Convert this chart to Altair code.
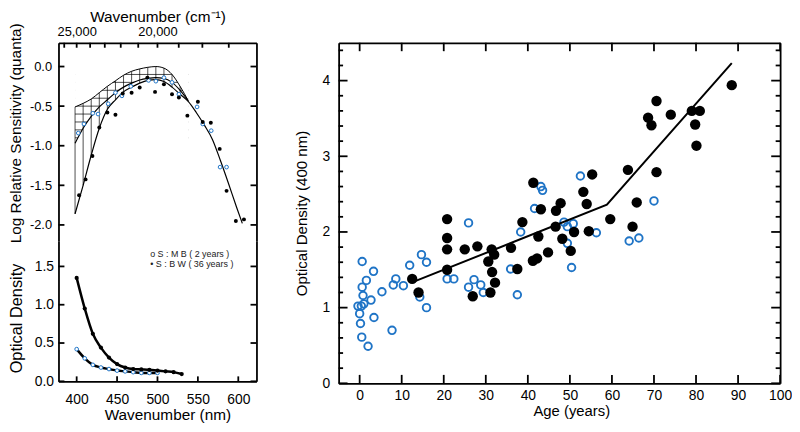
import altair as alt
import pandas as pd

FONT = "Liberation Sans"
BLUE = "#1f74c6"
TICK_W = 1.8
FRAME_W = 1.8

# ---------------- upper-left panel: log relative sensitivity ----------------
sens_mb_nm = [402, 409, 420, 426.5, 439, 448, 456, 467, 489, 498, 508, 518, 526.5, 549, 556, 566.5, 577.5, 585.5]
sens_mb_val = [-0.84, -0.725, -0.59, -0.60, -0.47, -0.33, -0.37, -0.25, -0.175, -0.185, -0.14, -0.20, -0.35, -0.51, -0.725, -0.81, -1.27, -1.27]
sens_bw_nm = [403, 411, 419.5, 428, 438, 448, 457, 468, 478, 487.5, 497, 508, 518, 526.5, 537, 550, 556, 566, 577, 585.5, 597, 607]
sens_bw_val = [-1.625, -1.425, -1.13, -0.77, -0.58, -0.61, -0.34, -0.33, -0.265, -0.14, -0.32, -0.225, -0.35, -0.39, -0.62, -0.445, -0.70, -0.71, -1.04, -1.57, -1.95, -1.93]

fit_nm = [398, 408, 418, 428, 438, 448, 458, 468, 478, 488, 498, 508, 518, 528, 538, 548, 558, 568, 578, 588, 598, 605]
fit_bw = [-1.86, -1.50, -1.12, -0.78, -0.54, -0.42, -0.32, -0.26, -0.21, -0.175, -0.165, -0.19, -0.26, -0.35, -0.44, -0.58, -0.74, -0.92, -1.19, -1.48, -1.78, -1.98]
fit_mb = [-0.97, -0.78, -0.63, -0.51, -0.42, -0.33, -0.26, -0.21, -0.17, -0.15, -0.14, -0.15, -0.20, -0.30, -0.43]
env_top = [-0.51, -0.465, -0.41, -0.33, -0.25, -0.18, -0.11, -0.06, -0.03, -0.01, 0.0, -0.02, -0.10, -0.25, -0.43]
hatch_levels = [-0.1, -0.2, -0.3, -0.4, -0.5, -0.6, -0.7, -0.8, -0.9]

wn_ticks = [26000, 25000, 24000, 23000, 22000, 21000, 20000, 19000, 18000, 17000]
sens_ticks = [0.0, -0.5, -1.0, -1.5, -2.0]

# ---------------- lower-left panel: optical density ----------------
od_mb_nm = [400, 410, 420, 430, 440, 450, 460, 470, 480, 490, 500]
od_mb = [0.42, 0.30, 0.215, 0.18, 0.16, 0.14, 0.13, 0.12, 0.11, 0.11, 0.11]
od_bw_nm = [400, 410, 420, 430, 440, 450, 460, 470, 480, 490, 500, 510, 520, 530]
od_bw = [1.35, 0.95, 0.62, 0.44, 0.31, 0.225, 0.18, 0.16, 0.155, 0.15, 0.14, 0.13, 0.12, 0.095]
legend_labels = ["o S : M  B   ( 2 years )", "\u2022 S : B  W   ( 36 years )"]
legend_nm = [491, 491]
legend_od = [1.66, 1.53]
nm_ticks = [400, 450, 500, 550, 600]
od_ticks_left = [0.0, 0.5, 1.0, 1.5]

# ---------------- right panel: optical density vs age ----------------
blue_age = [0.6, 3.3, 1.6, 0.6, 0.8, 2.7, -0.4, 0.4, 1.0, 0.0, 0.2, 0.5, 2.0, 3.4, 5.3, 7.7, 8.0, 8.6, 10.4, 11.9,
            14.7, 15.9, 14.3, 15.9, 20.8, 22.4, 25.9, 25.9, 27.2, 28.8, 29.4, 35.9, 37.5, 38.3, 41.6, 43.1, 43.5,
            48.6, 49.4, 50.8, 49.4, 50.4, 52.5, 56.3, 64.1, 66.4, 70.0]
blue_od = [1.61, 1.48, 1.36, 1.27, 1.16, 1.10, 1.02, 1.02, 1.05, 0.92, 0.79, 0.61, 0.49, 0.87, 1.21, 0.70, 1.30, 1.38, 1.29, 1.56,
           1.70, 1.60, 1.14, 1.00, 1.38, 1.38, 2.12, 1.27, 1.37, 1.30, 1.20, 1.51, 1.17, 2.00, 2.31, 2.60, 2.55,
           2.13, 2.07, 2.11, 1.85, 1.53, 2.74, 1.99, 1.88, 1.92, 2.41]
black_age = [12.5, 14.0, 20.8, 20.8, 20.8, 20.8, 25.0, 26.9, 28.0, 30.6, 31.4, 32.0, 31.5, 32.2, 31.1, 36.0, 37.5, 38.7,
             41.3, 43.1, 42.5, 41.2, 42.2, 44.8, 46.7, 47.8, 46.6, 48.2, 50.2, 51.0, 53.2, 54.0, 54.5, 55.3, 59.6,
             63.8, 64.9, 65.9, 68.6, 69.4, 70.6, 70.6, 74.0, 79.0, 80.9, 79.8, 80.1, 88.5]
black_od = [1.38, 1.20, 2.17, 1.92, 1.77, 1.50, 1.77, 1.15, 1.81, 1.61, 1.77, 1.70, 1.47, 1.33, 1.20, 1.79, 1.51, 2.13,
            2.65, 2.30, 1.94, 1.62, 1.65, 1.73, 2.28, 2.38, 2.07, 1.91, 1.75, 2.00, 2.53, 2.37, 2.01, 2.76, 2.17,
            2.82, 2.07, 2.39, 3.51, 3.41, 2.79, 3.73, 3.55, 3.60, 3.60, 3.42, 3.14, 3.94]
fit_age = [12.3, 58.8, 88.5]
fit_od = [1.33, 2.36, 4.23]
age_ticks = [0, 10, 20, 30, 40, 50, 60, 70, 80, 90, 100]
od_major = [0, 1, 2, 3, 4]
od_minor = [round(0.2 * i, 1) for i in range(23) if i % 5 != 0]

# panel sizes (plot areas, px) and scale domains
TW, TH = 200, 200      # upper-left
BW, BH = 200, 142      # lower-left
RW, RH = 446, 344      # right
NM_DOM = [377.5, 622.5]
SENS_DOM = [-2.2, 0.3]
OD_DOM = [0, 1.835]


def ax(**kw):
    base = dict(domainColor="black", domainWidth=FRAME_W, ticks=False,
                labelColor="black", titleColor="black", labelFont=FONT, titleFont=FONT,
                titleFontWeight="normal", grid=False, zindex=1, minExtent=0, labelFlush=False)
    base.update(kw)
    return alt.Axis(**base)


def frame_axis(orient):
    return ax(orient=orient, labels=False, title=None)


# --- inward ticks drawn through the panel's own scales (length given in px) ---
def y_ticks_scaled(values, xscale, yscale, xdom, width, length, side):
    step = (xdom[1] - xdom[0]) / width * length
    a = xdom[0] if side == "left" else xdom[1]
    b = a + step if side == "left" else a - step
    return alt.Chart(pd.DataFrame({"v": values, "a": a, "b": b})).mark_rule(
        color="black", strokeWidth=TICK_W).encode(
        y=alt.Y("v:Q", scale=yscale, axis=None),
        x=alt.X("a:Q", scale=xscale, axis=None), x2=alt.X2("b:Q"))


def x_ticks_scaled(values, xscale, yscale, ydom, height, length, side):
    step = (ydom[1] - ydom[0]) / height * length
    a = ydom[1] if side == "top" else ydom[0]
    b = a - step if side == "top" else a + step
    return alt.Chart(pd.DataFrame({"v": values, "a": a, "b": b})).mark_rule(
        color="black", strokeWidth=TICK_W).encode(
        x=alt.X("v:Q", scale=xscale, axis=None),
        y=alt.Y("a:Q", scale=yscale, axis=None), y2=alt.Y2("b:Q"))


# --- inward ticks in pixel space (used on the right panel) ---
def y_ticks(values, scale, length, side, width):
    x0 = 0 if side == "left" else width
    x1 = length if side == "left" else width - length
    return alt.Chart(pd.DataFrame({"v": values, "a": x0, "b": x1})).mark_rule(
        color="black", strokeWidth=TICK_W, opacity=1).encode(
        y=alt.Y("v:Q", scale=scale, axis=None),
        x=alt.X("a:Q", scale=None, axis=None), x2=alt.X2("b:Q"))


def x_ticks(values, scale, length, side, height):
    y0 = 0 if side == "top" else height
    y1 = length if side == "top" else height - length
    return alt.Chart(pd.DataFrame({"v": values, "a": y0, "b": y1})).mark_rule(
        color="black", strokeWidth=TICK_W, opacity=1).encode(
        x=alt.X("v:Q", scale=scale, axis=None),
        y=alt.Y("a:Q", scale=None, axis=None), y2=alt.Y2("b:Q"))


# ================= upper-left chart =================
X_NM = alt.Scale(domain=NM_DOM, nice=False, zero=False)
Y_SENS = alt.Scale(domain=SENS_DOM, nice=False, zero=False)

n_env = len(env_top)
env_df = pd.DataFrame({"nm": fit_nm[:n_env], "env": env_top, "mb": fit_mb, "bw": fit_bw[:n_env]})
bw_df = pd.DataFrame({"nm": fit_nm, "bw": fit_bw})
hh_df = pd.DataFrame({"level": hatch_levels, "x1": fit_nm[0], "x2": fit_nm[n_env - 1]})
wn_nm = [round(1e7 / w, 3) for w in wn_ticks]

t_x_lab = ax(orient="top", values=wn_nm,
             labelExpr="abs(round(10000000 / datum.value) % 5000) < 1 ? format(round(10000000 / datum.value), ',') : ''",
             labelPadding=4, labelFontSize=13, labelOverlap=False,
             title="Wavenumber (cm\u207b\u00b9)", titleFontSize=15.5, titlePadding=1)
t_y_lab = ax(orient="left", values=sens_ticks,
             labelExpr="(datum.value < 0 ? '-' : '') + format(abs(datum.value), '.1f')",
             labelPadding=7, labelFontSize=13,
             title="Log Relative Sensitivity (quanta)", titleFontSize=15.5, titlePadding=5.6, titleY=91)

hh = alt.Chart(hh_df).mark_rule(color="black", strokeWidth=0.7).encode(
    x=alt.X("x1:Q", scale=X_NM, axis=t_x_lab), x2="x2:Q",
    y=alt.Y("level:Q", scale=Y_SENS, axis=t_y_lab))
mask_top = alt.Chart(env_df).mark_area(color="white", opacity=1, interpolate="monotone").encode(
    x=alt.X("nm:Q", scale=X_NM, axis=None), y=alt.Y("env:Q", scale=Y_SENS, axis=frame_axis("right")),
    y2=alt.Y2Datum(0.3))
mask_bot = alt.Chart(env_df).mark_area(color="white", opacity=1, interpolate="monotone").encode(
    x=alt.X("nm:Q", scale=X_NM, axis=None), y=alt.Y("mb:Q", scale=Y_SENS, axis=None),
    y2=alt.Y2Datum(-2.2))
vh = alt.Chart(env_df).mark_rule(color="black", strokeWidth=0.7).encode(
    x=alt.X("nm:Q", scale=X_NM, axis=None),
    y=alt.Y("env:Q", scale=Y_SENS, axis=None), y2="bw:Q")
env_line = alt.Chart(env_df).mark_line(color="black", strokeWidth=1, interpolate="monotone").encode(
    x=alt.X("nm:Q", scale=X_NM, axis=None), y=alt.Y("env:Q", scale=Y_SENS, axis=None))
mb_line = alt.Chart(env_df).mark_line(color="black", strokeWidth=1.2, interpolate="monotone").encode(
    x=alt.X("nm:Q", scale=X_NM, axis=None), y=alt.Y("mb:Q", scale=Y_SENS, axis=None))
bw_line = alt.Chart(bw_df).mark_line(color="black", strokeWidth=1.2, interpolate="monotone").encode(
    x=alt.X("nm:Q", scale=X_NM, axis=None), y=alt.Y("bw:Q", scale=Y_SENS, axis=None))
pts_mb = alt.Chart(pd.DataFrame({"nm": sens_mb_nm, "v": sens_mb_val})).mark_point(
    shape="circle", fill="white", stroke=BLUE, strokeWidth=1, size=14, opacity=1, fillOpacity=1).encode(
    x=alt.X("nm:Q", scale=X_NM, axis=None), y=alt.Y("v:Q", scale=Y_SENS, axis=None))
pts_bw = alt.Chart(pd.DataFrame({"nm": sens_bw_nm, "v": sens_bw_val})).mark_circle(
    color="black", size=16, opacity=1).encode(
    x=alt.X("nm:Q", scale=X_NM, axis=None), y=alt.Y("v:Q", scale=Y_SENS, axis=None))

top_chart = alt.layer(
    hh, mask_top, mask_bot, vh, env_line, mb_line, bw_line, pts_mb, pts_bw,
    y_ticks_scaled(sens_ticks, X_NM, Y_SENS, NM_DOM, TW, 6, "left"),
    y_ticks_scaled(sens_ticks, X_NM, Y_SENS, NM_DOM, TW, 6, "right"),
    x_ticks_scaled(wn_nm, X_NM, Y_SENS, SENS_DOM, TH, 5, "top"),
).resolve_axis(x="independent", y="independent").properties(width=TW, height=TH)

# ================= lower-left chart =================
Y_OD = alt.Scale(domain=OD_DOM, nice=False)
b_x_lab = ax(orient="bottom", values=nm_ticks, format="d", labelPadding=11, labelFontSize=14,
             title="Wavenumber (nm)", titleFontSize=15.5, titlePadding=2, titleX=110)
b_y_lab = ax(orient="left", values=od_ticks_left, format=".1f", labelPadding=5, labelFontSize=14,
             title="Optical Density", titleFontSize=16.5, titlePadding=9.5, titleY=78)

mb_od_df = pd.DataFrame({"nm": od_mb_nm, "od": od_mb})
bw_od_df = pd.DataFrame({"nm": od_bw_nm, "od": od_bw})
od_bw_line = alt.Chart(bw_od_df).mark_line(color="black", strokeWidth=2.5, interpolate="monotone").encode(
    x=alt.X("nm:Q", scale=X_NM, axis=b_x_lab), y=alt.Y("od:Q", scale=Y_OD, axis=b_y_lab))
od_mb_line = alt.Chart(mb_od_df).mark_line(color="black", strokeWidth=2.5, interpolate="monotone").encode(
    x=alt.X("nm:Q", scale=X_NM, axis=None), y=alt.Y("od:Q", scale=Y_OD, axis=frame_axis("right")))
od_mb_pts = alt.Chart(mb_od_df).mark_point(
    shape="circle", fill="white", stroke=BLUE, strokeWidth=1, size=14, opacity=1, fillOpacity=1).encode(
    x=alt.X("nm:Q", scale=X_NM, axis=None), y=alt.Y("od:Q", scale=Y_OD, axis=None))
od_bw_pts = alt.Chart(bw_od_df).mark_circle(color="black", size=18, opacity=1).encode(
    x=alt.X("nm:Q", scale=X_NM, axis=None), y=alt.Y("od:Q", scale=Y_OD, axis=None))
legend = alt.Chart(pd.DataFrame({"nm": legend_nm, "od": legend_od, "label": legend_labels})).mark_text(
    align="left", baseline="middle", fontSize=9, font=FONT, color="#222222").encode(
    x=alt.X("nm:Q", scale=X_NM, axis=None), y=alt.Y("od:Q", scale=Y_OD, axis=None), text="label:N")

bottom_chart = alt.layer(
    od_bw_line, od_mb_line, od_mb_pts, od_bw_pts, legend,
    y_ticks_scaled(od_ticks_left, X_NM, Y_OD, NM_DOM, BW, 6, "left"),
    y_ticks_scaled(od_ticks_left, X_NM, Y_OD, NM_DOM, BW, 6, "right"),
    x_ticks_scaled(nm_ticks, X_NM, Y_OD, OD_DOM, BH, 5, "bottom"),
).resolve_axis(x="independent", y="independent").properties(width=BW, height=BH)

# ================= right chart =================
X_AGE = alt.Scale(domain=[-5, 100], nice=False, zero=False)
Y_AGE = alt.Scale(domain=[0, 4.5], nice=False)

r_x_lab = ax(orient="bottom", values=age_ticks, format="d", labelPadding=5, labelFontSize=14,
             title="Age (years)", titleFontSize=15, titlePadding=1.5, titleX=235)
r_y_lab = ax(orient="left", values=od_major, format="d", labelPadding=9, labelFontSize=14,
             title="Optical Density (400 nm)", titleFontSize=15.2, titlePadding=12.6)

fit_df = pd.DataFrame({"age": fit_age, "od": fit_od})
blue_pts = alt.Chart(pd.DataFrame({"age": blue_age, "od": blue_od})).mark_point(
    shape="circle", filled=False, color=BLUE, strokeWidth=1.9, size=58, opacity=1).encode(
    x=alt.X("age:Q", scale=X_AGE, axis=r_x_lab), y=alt.Y("od:Q", scale=Y_AGE, axis=r_y_lab))
black_pts = alt.Chart(pd.DataFrame({"age": black_age, "od": black_od})).mark_circle(
    color="black", size=110, opacity=1).encode(
    x=alt.X("age:Q", scale=X_AGE, axis=frame_axis("top")),
    y=alt.Y("od:Q", scale=Y_AGE, axis=frame_axis("right")))
fit_line = alt.Chart(fit_df).mark_line(color="black", strokeWidth=2).encode(
    x=alt.X("age:Q", scale=X_AGE, axis=None), y=alt.Y("od:Q", scale=Y_AGE, axis=None))

right_chart = alt.layer(
    blue_pts, black_pts, fit_line,
    y_ticks(od_major, Y_AGE, 9, "left", RW), y_ticks(od_minor, Y_AGE, 4.5, "left", RW),
    y_ticks(od_major, Y_AGE, 9, "right", RW), y_ticks(od_minor, Y_AGE, 4.5, "right", RW),
    x_ticks(age_ticks, X_AGE, 8.5, "top", RH), x_ticks(age_ticks, X_AGE, 8.5, "bottom", RH),
).resolve_axis(x="independent", y="independent").properties(width=RW, height=RH)

left_col = alt.vconcat(top_chart, bottom_chart, spacing=0, bounds="flush")
chart = alt.hconcat(left_col, right_chart, spacing=37, padding=0).configure(
    font=FONT).configure_view(strokeWidth=0)

chart.save("out.html", embed_options={"renderer": "svg", "actions": False})
